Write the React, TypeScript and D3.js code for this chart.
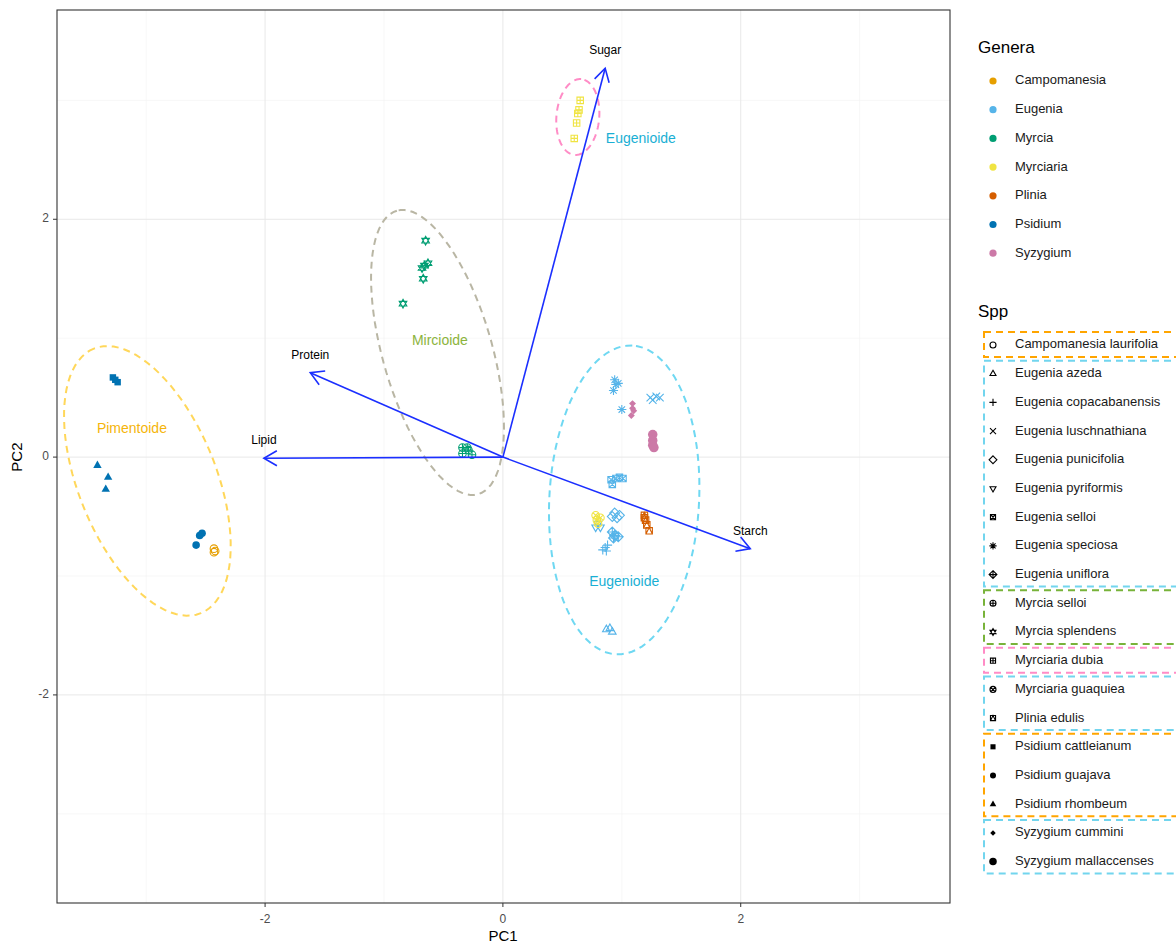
import React from "react";
import * as d3 from "d3";

// genera (colour legend)
const genera = ["Campomanesia", "Eugenia", "Myrcia", "Myrciaria", "Plinia", "Psidium", "Syzygium"];
const generaColors = ["#E69F00", "#56B4E9", "#009E73", "#F0E442", "#D55E00", "#0072B2", "#CC79A7"];

// species (shape legend), ggplot shape codes
const species = [
  "Campomanesia laurifolia", "Eugenia azeda", "Eugenia copacabanensis", "Eugenia luschnathiana",
  "Eugenia punicifolia", "Eugenia pyriformis", "Eugenia selloi", "Eugenia speciosa", "Eugenia uniflora",
  "Myrcia selloi", "Myrcia splendens", "Myrciaria dubia", "Myrciaria guaquiea", "Plinia edulis",
  "Psidium cattleianum", "Psidium guajava", "Psidium rhombeum", "Syzygium cummini", "Syzygium mallaccenses",
];
const speciesShapes = [1, 2, 3, 4, 5, 6, 7, 8, 9, 10, 11, 12, 13, 14, 15, 16, 17, 18, 19];

// legend groupings (first, last species index, box colour)
const sppBoxes: [number, number, string][] = [
  [0, 0, "#FFA500"], [1, 8, "#72D5EE"], [9, 10, "#78B33A"], [11, 11, "#FF8CC6"],
  [12, 13, "#72D5EE"], [14, 16, "#FFA500"], [17, 18, "#72D5EE"],
];

// PCA scores: species, PC1, PC2
const scores: [string, number, number][] = [
  ["Campomanesia laurifolia", -2.43, -0.77], ["Campomanesia laurifolia", -2.43, -0.80], ["Campomanesia laurifolia", -2.42, -0.79],
  ["Eugenia azeda", 0.87, -1.45], ["Eugenia azeda", 0.92, -1.47], ["Eugenia azeda", 0.90, -1.44],
  ["Eugenia copacabanensis", 0.86, -0.76], ["Eugenia copacabanensis", 0.88, -0.74], ["Eugenia copacabanensis", 0.84, -0.78], ["Eugenia copacabanensis", 0.87, -0.79],
  ["Eugenia luschnathiana", 1.24, 0.50], ["Eugenia luschnathiana", 1.29, 0.51], ["Eugenia luschnathiana", 1.32, 0.50], ["Eugenia luschnathiana", 1.26, 0.48],
  ["Eugenia punicifolia", 0.94, -0.47], ["Eugenia punicifolia", 0.98, -0.49], ["Eugenia punicifolia", 0.96, -0.51], ["Eugenia punicifolia", 0.92, -0.50],
  ["Eugenia pyriformis", 0.80, -0.56], ["Eugenia pyriformis", 0.82, -0.59], ["Eugenia pyriformis", 0.78, -0.59],
  ["Eugenia selloi", 0.91, -0.19], ["Eugenia selloi", 0.95, -0.18], ["Eugenia selloi", 0.98, -0.17], ["Eugenia selloi", 1.01, -0.18], ["Eugenia selloi", 0.92, -0.23],
  ["Eugenia speciosa", 0.94, 0.65], ["Eugenia speciosa", 0.95, 0.61], ["Eugenia speciosa", 0.93, 0.56], ["Eugenia speciosa", 0.97, 0.62], ["Eugenia speciosa", 1.00, 0.40],
  ["Eugenia uniflora", 0.92, -0.63], ["Eugenia uniflora", 0.94, -0.66], ["Eugenia uniflora", 0.97, -0.67], ["Eugenia uniflora", 0.93, -0.68],
  ["Myrcia selloi", -0.34, 0.08], ["Myrcia selloi", -0.29, 0.06], ["Myrcia selloi", -0.34, 0.03], ["Myrcia selloi", -0.26, 0.02], ["Myrcia selloi", -0.30, 0.08],
  ["Myrcia splendens", -0.65, 1.82], ["Myrcia splendens", -0.68, 1.59], ["Myrcia splendens", -0.63, 1.63], ["Myrcia splendens", -0.67, 1.50], ["Myrcia splendens", -0.84, 1.29], ["Myrcia splendens", -0.66, 1.61],
  ["Myrciaria dubia", 0.65, 3.00], ["Myrciaria dubia", 0.64, 2.92], ["Myrciaria dubia", 0.63, 2.89], ["Myrciaria dubia", 0.62, 2.81], ["Myrciaria dubia", 0.60, 2.68],
  ["Myrciaria guaquiea", 0.78, -0.49], ["Myrciaria guaquiea", 0.79, -0.53], ["Myrciaria guaquiea", 0.80, -0.56], ["Myrciaria guaquiea", 0.82, -0.51],
  ["Plinia edulis", 1.19, -0.49], ["Plinia edulis", 1.20, -0.53], ["Plinia edulis", 1.21, -0.57], ["Plinia edulis", 1.23, -0.62], ["Plinia edulis", 1.19, -0.51],
  ["Psidium cattleianum", -3.28, 0.67], ["Psidium cattleianum", -3.24, 0.63], ["Psidium cattleianum", -3.26, 0.65],
  ["Psidium guajava", -2.53, -0.64], ["Psidium guajava", -2.55, -0.66], ["Psidium guajava", -2.58, -0.74],
  ["Psidium rhombeum", -3.41, -0.07], ["Psidium rhombeum", -3.32, -0.17], ["Psidium rhombeum", -3.34, -0.27],
  ["Syzygium cummini", 1.09, 0.45], ["Syzygium cummini", 1.09, 0.41], ["Syzygium cummini", 1.08, 0.35], ["Syzygium cummini", 1.10, 0.39],
  ["Syzygium mallaccenses", 1.26, 0.19], ["Syzygium mallaccenses", 1.26, 0.14], ["Syzygium mallaccenses", 1.26, 0.10], ["Syzygium mallaccenses", 1.27, 0.08],
];

// variable loadings (arrows)
const variables = ["Sugar", "Protein", "Lipid", "Starch"];
const loadPC1 = [0.86, -1.62, -2.01, 2.08];
const loadPC2 = [3.27, 0.71, -0.01, -0.77];

// group ellipses: label, centre, semi-axes, angle (deg), colours, label position
const groupNames = ["Eugenioide", "Mircioide", "Pimentoide", "Eugenioide"];
const groupCenter: [number, number][] = [[0.63, 2.86], [-0.55, 0.88], [-2.99, -0.20], [1.02, -0.36]];
const groupAxes: [number, number][] = [[0.32, 0.18], [1.24, 0.46], [1.20, 0.58], [1.30, 0.63]];
const groupAngle = [85, 106, 112, 87];
const groupColor = ["#FF8CC6", "#B9B6A4", "#FFD75A", "#6FD8F2"];
const groupLabelColor = ["#1AAFD4", "#8CB43C", "#F5B50A", "#1AAFD4"];
const groupLabelPos: [number, number][] = [[1.16, 2.67], [-0.53, 0.97], [-3.12, 0.23], [1.02, -1.05]];

const xTicks = [-2, 0, 2];
const minorTicks = [-3, -1, 1, 3];

function Glyph({ shape, x, y, color, r }: { shape: number; x: number; y: number; color: string; r: number }) {
  const sw = 1.1;
  const tri = (s: number, dir: number) =>
    `M0,${-dir * s * 1.15}L${s},${dir * s * 0.6}L${-s},${dir * s * 0.6}Z`;
  const sq = (s: number) => `M${-s},${-s}H${s}V${s}H${-s}Z`;
  const dia = (s: number) => `M0,${-s * 1.3}L${s * 1.3},0L0,${s * 1.3}L${-s * 1.3},0Z`;
  let el: React.ReactNode = null;
  const open = { fill: "none", stroke: color, strokeWidth: sw };
  const q = r * 0.85;
  switch (shape) {
    case 1: el = <circle r={r} {...open} />; break;
    case 2: el = <path d={tri(r, 1)} {...open} />; break;
    case 3: el = <path d={`M${-r * 1.2},0H${r * 1.2}M0,${-r * 1.2}V${r * 1.2}`} {...open} />; break;
    case 4: el = <path d={`M${-r},${-r}L${r},${r}M${-r},${r}L${r},${-r}`} {...open} />; break;
    case 5: el = <path d={dia(r)} {...open} />; break;
    case 6: el = <path d={tri(r, -1)} {...open} />; break;
    case 7: el = <path d={`${sq(q)}M${-q},${-q}L${q},${q}M${-q},${q}L${q},${-q}`} {...open} />; break;
    case 8: el = <path d={`M${-r * 1.2},0H${r * 1.2}M0,${-r * 1.2}V${r * 1.2}M${-r * 0.85},${-r * 0.85}L${r * 0.85},${r * 0.85}M${-r * 0.85},${r * 0.85}L${r * 0.85},${-r * 0.85}`} {...open} />; break;
    case 9: el = <path d={`${dia(r)}M${-r * 1.3},0H${r * 1.3}M0,${-r * 1.3}V${r * 1.3}`} {...open} />; break;
    case 10: el = <path d={`M${-r},0A${r},${r} 0 1,0 ${r},0A${r},${r} 0 1,0 ${-r},0M${-r},0H${r}M0,${-r}V${r}`} {...open} />; break;
    case 11: el = <path d={`${tri(r, 1)}${tri(r, -1)}`} {...open} />; break;
    case 12: el = <path d={`${sq(q)}M${-q},0H${q}M0,${-q}V${q}`} {...open} />; break;
    case 13: { const k = r * 0.707; el = <path d={`M${-r},0A${r},${r} 0 1,0 ${r},0A${r},${r} 0 1,0 ${-r},0M${-k},${-k}L${k},${k}M${-k},${k}L${k},${-k}`} {...open} />; break; }
    case 14: el = <path d={`${sq(q)}M${-q},${q}L0,${-q}L${q},${q}`} {...open} />; break;
    case 15: el = <path d={sq(q)} fill={color} />; break;
    case 16: el = <circle r={r} fill={color} />; break;
    case 17: el = <path d={tri(r * 1.1, 1)} fill={color} />; break;
    case 18: el = <path d={dia(r * 0.7)} fill={color} />; break;
    case 19: el = <circle r={r * 1.25} fill={color} />; break;
  }
  return <g transform={`translate(${x},${y})`}>{el}</g>;
}

export default function App() {
  React.useEffect(() => {
    document.body.style.margin = "0";
  }, []);

  const W = 1176;
  const H = 945;
  const x = d3.scaleLinear().domain([-3.75, 3.76]).range([57, 950]);
  const y = d3.scaleLinear().domain([-3.75, 3.76]).range([903, 10]);
  const font = "'Liberation Sans', Arial, sans-serif";

  const genusOf = (sp: string) => genera.findIndex((g) => sp.startsWith(g + " "));

  const ellipsePath = (i: number) => {
    const [cx, cy] = groupCenter[i];
    const [a, b] = groupAxes[i];
    const th = (groupAngle[i] * Math.PI) / 180;
    const pts: [number, number][] = d3.range(0, 361, 4).map((deg) => {
      const t = (deg * Math.PI) / 180;
      const px = cx + a * Math.cos(t) * Math.cos(th) - b * Math.sin(t) * Math.sin(th);
      const py = cy + a * Math.cos(t) * Math.sin(th) + b * Math.sin(t) * Math.cos(th);
      return [x(px), y(py)];
    });
    return d3.line().curve(d3.curveLinearClosed)(pts) || "";
  };

  const x0 = x(0);
  const y0 = y(0);
  const arrowColor = "#1B2FFF";

  const legendRow = 28.7;
  const generaY0 = 81;
  const sppY0 = 345;

  return (
    <svg width={W} height={H} style={{ display: "block", fontFamily: font }}>
      <rect width={W} height={H} fill="#fff" />
      {/* grid */}
      {minorTicks.map((t) => (
        <g key={"mn" + t}>
          <line x1={x(t)} x2={x(t)} y1={10} y2={903} stroke="#F2F2F2" strokeWidth={0.6} />
          <line x1={57} x2={950} y1={y(t)} y2={y(t)} stroke="#F2F2F2" strokeWidth={0.6} />
        </g>
      ))}
      {xTicks.map((t) => (
        <g key={"mj" + t}>
          <line x1={x(t)} x2={x(t)} y1={10} y2={903} stroke="#E8E8E8" strokeWidth={1} />
          <line x1={57} x2={950} y1={y(t)} y2={y(t)} stroke="#E8E8E8" strokeWidth={1} />
        </g>
      ))}

      {/* ellipses */}
      {groupNames.map((g, i) => (
        <path key={"el" + i} d={ellipsePath(i)} fill="none" stroke={groupColor[i]} strokeWidth={2}
          strokeDasharray="7,5" />
      ))}

      {/* points */}
      {scores.map(([sp, p1, p2], i) => {
        const si = species.indexOf(sp);
        return (
          <Glyph key={"pt" + i} shape={speciesShapes[si]} x={x(p1)} y={y(p2)}
            color={generaColors[genusOf(sp)]} r={3.8} />
        );
      })}

      {/* group labels */}
      {groupNames.map((g, i) => (
        <text key={"gl" + i} x={x(groupLabelPos[i][0])} y={y(groupLabelPos[i][1])} fill={groupLabelColor[i]}
          fontSize={14} textAnchor="middle" dominantBaseline="middle">{g}</text>
      ))}

      {/* loading arrows */}
      {variables.map((v, i) => {
        const tx = x(loadPC1[i]);
        const ty = y(loadPC2[i]);
        const ang = Math.atan2(ty - y0, tx - x0);
        const len = 15;
        const spread = Math.PI / 6;
        const a1x = tx - len * Math.cos(ang - spread);
        const a1y = ty - len * Math.sin(ang - spread);
        const a2x = tx - len * Math.cos(ang + spread);
        const a2y = ty - len * Math.sin(ang + spread);
        return (
          <g key={"ar" + v}>
            <line x1={x0} y1={y0} x2={tx} y2={ty} stroke={arrowColor} strokeWidth={1.6} />
            <path d={`M${a1x},${a1y}L${tx},${ty}L${a2x},${a2y}`} fill="none" stroke={arrowColor} strokeWidth={1.6} />
            <text x={tx} y={ty - 17} fontSize={12} textAnchor="middle" dominantBaseline="middle" fill="#000">{v}</text>
          </g>
        );
      })}

      {/* panel border */}
      <rect x={57} y={10} width={893} height={893} fill="none" stroke="#333" strokeWidth={1.1} />

      {/* axes */}
      {xTicks.map((t) => (
        <g key={"xt" + t}>
          <line x1={x(t)} x2={x(t)} y1={903} y2={907} stroke="#333" />
          <text x={x(t)} y={920} fontSize={12} fill="#4D4D4D" textAnchor="middle" dominantBaseline="middle">{t}</text>
          <line x1={53} x2={57} y1={y(t)} y2={y(t)} stroke="#333" />
          <text x={49} y={y(t)} fontSize={12} fill="#4D4D4D" textAnchor="end" dominantBaseline="middle">{t}</text>
        </g>
      ))}
      <text x={503} y={937} fontSize={15} textAnchor="middle" dominantBaseline="middle">PC1</text>
      <text transform={`translate(18,${y0}) rotate(-90)`} fontSize={15} textAnchor="middle" dominantBaseline="middle">PC2</text>

      {/* genera legend */}
      <text x={978} y={49} fontSize={17} dominantBaseline="middle">Genera</text>
      {genera.map((g, i) => (
        <g key={"gen" + g}>
          <circle cx={993} cy={generaY0 + i * legendRow} r={3.6} fill={generaColors[i]} />
          <text x={1015} y={generaY0 + i * legendRow} fontSize={13} dominantBaseline="middle" fill="#1a1a1a">{g}</text>
        </g>
      ))}

      {/* species legend */}
      <text x={978} y={313} fontSize={17} dominantBaseline="middle">Spp</text>
      {species.map((s, i) => (
        <g key={"sp" + s}>
          <Glyph shape={speciesShapes[i]} x={993} y={sppY0 + i * legendRow} color="#000" r={3} />
          <text x={1015} y={sppY0 + i * legendRow} fontSize={13} dominantBaseline="middle" fill="#1a1a1a">{s}</text>
        </g>
      ))}
      {sppBoxes.map(([a, b, c], i) => (
        <rect key={"bx" + i} x={984} y={sppY0 + a * legendRow - 13} width={260}
          height={(b - a) * legendRow + 25} fill="none" stroke={c} strokeWidth={2} strokeDasharray="7,5" />
      ))}
    </svg>
  );
}
